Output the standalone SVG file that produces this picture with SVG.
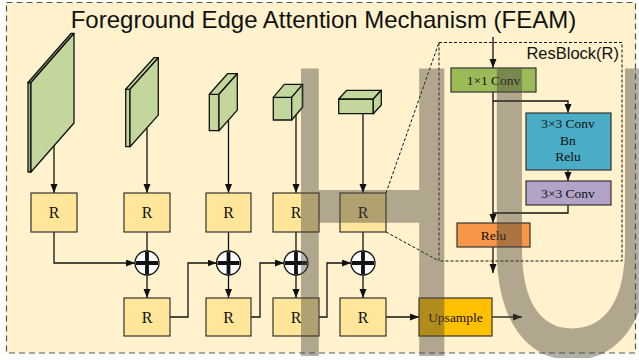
<svg xmlns="http://www.w3.org/2000/svg" width="639" height="360" viewBox="0 0 639 360">
  <defs>
    <style>
      .frame { fill: #fff2cc; stroke: #555; stroke-width: 1.2; stroke-dasharray: 6 4; }
      .title { font-family: "Liberation Sans", Arial, sans-serif; font-size: 24px; fill: #111; }
      .plate { fill: #c3d69b; stroke: #111; stroke-width: 1.3; stroke-linejoin: round; }
      .edge { fill: #9fb683; }
      .box { stroke: #333; stroke-width: 1.2; }
      .r { fill: #ffe699; }
      .lbl { font-family: "Liberation Serif", "Times New Roman", serif; font-size: 13.5px; fill: #111; text-anchor: middle; }
      .rl { font-family: "Liberation Serif", "Times New Roman", serif; font-size: 16px; fill: #111; text-anchor: middle; }
      .wire { fill: none; stroke: #111; stroke-width: 1.3; }
      .arr { marker-end: url(#head); }
      .zoomline { fill: none; stroke: #111; stroke-width: 1; stroke-dasharray: 3 2; }
      .sum circle { fill: #fff; stroke: #111; stroke-width: 1.3; }
      .sum path { stroke: #111; stroke-width: 3.8; fill: none; }
      .mark { font-family: "Liberation Sans", Arial, sans-serif; font-size: 418px; fill: rgb(80,74,64); }
    </style>
    <marker id="head" markerUnits="userSpaceOnUse" markerWidth="10" markerHeight="8" refX="9" refY="3.5" orient="auto">
      <path d="M0,0 L9,3.5 L0,7 z" fill="#111"/>
    </marker>
    <clipPath id="markclip">
      <rect x="301" y="0" width="338" height="358"/>
    </clipPath>
  </defs>

  <!-- outer module frame -->
  <rect class="frame" x="6.5" y="2.5" width="629" height="350.5"/>
  <text class="title" x="323.5" y="28" text-anchor="middle">Foreground Edge Attention Mechanism (FEAM)</text>

  <!-- multi-scale feature maps -->
  <g id="feat1">
    <rect class="plate edge" x="28" y="82.5" width="3" height="89.5"/>
    <polygon class="plate edge" points="28,82.5 71,33.5 74,33.5 31,82.5"/>
    <polygon class="plate" points="31,82.5 74,33.5 74,123 31,172"/>
  </g>
  <g id="feat2">
    <rect class="plate" x="125.7" y="89.3" width="4.3" height="57.4"/>
    <polygon class="plate" points="125.7,89.3 154,57.7 158.3,57.7 130,89.3"/>
    <polygon class="plate" points="130,89.3 158.3,57.7 158.3,115.1 130,146.7"/>
  </g>
  <g id="feat3">
    <rect class="plate" x="209.3" y="94.3" width="9.7" height="36.4"/>
    <polygon class="plate" points="209.3,94.3 227.6,73.7 237.3,73.7 219,94.3"/>
    <polygon class="plate" points="219,94.3 237.3,73.7 237.3,110.1 219,130.7"/>
  </g>
  <g id="feat4">
    <rect class="plate" x="273.3" y="97.3" width="18.4" height="22.7"/>
    <polygon class="plate" points="273.3,97.3 284.3,84.3 302.7,84.3 291.7,97.3"/>
    <polygon class="plate" points="291.7,97.3 302.7,84.3 302.7,107 291.7,120"/>
  </g>
  <g id="feat5">
    <rect class="plate" x="338.7" y="99" width="34.6" height="14.7"/>
    <polygon class="plate" points="338.7,99 346.7,90.3 381.3,90.3 373.3,99"/>
    <polygon class="plate" points="373.3,99 381.3,90.3 381.3,105 373.3,113.7"/>
  </g>

  <!-- ResBlock detail frame -->
  <g id="resblock">
    <rect x="439" y="42.5" width="183" height="218.5" fill="none" stroke="#111" stroke-width="1" stroke-dasharray="3 2"/>
    <text x="619" y="59" text-anchor="end" font-family="'Liberation Sans', Arial, sans-serif" font-size="16.5" fill="#111">ResBlock(R)</text>
  </g>

  <!-- connectors -->
  <g id="connectors">
    <line class="wire arr" x1="54" y1="146" x2="54" y2="193"/>
    <line class="wire arr" x1="147" y1="128" x2="147" y2="193"/>
    <line class="wire arr" x1="228.5" y1="120" x2="228.5" y2="193"/>
    <line class="wire arr" x1="296" y1="115" x2="296" y2="193"/>
    <line class="wire arr" x1="363" y1="113.7" x2="363" y2="193"/>

    <polyline class="wire arr" points="54,232 54,263 135,263"/>
    <line class="wire" x1="147" y1="232" x2="147" y2="251"/>
    <line class="wire" x1="228.5" y1="232" x2="228.5" y2="251"/>
    <line class="wire" x1="296" y1="232" x2="296" y2="251"/>
    <line class="wire" x1="363" y1="232" x2="363" y2="251"/>

    <line class="wire arr" x1="147" y1="275" x2="147" y2="298"/>
    <line class="wire arr" x1="228.5" y1="275" x2="228.5" y2="298"/>
    <line class="wire arr" x1="296" y1="275" x2="296" y2="298"/>
    <line class="wire arr" x1="363" y1="275" x2="363" y2="298"/>

    <polyline class="wire arr" points="170,317 188,317 188,263 216.5,263"/>
    <polyline class="wire arr" points="251,317 260,317 260,263 284,263"/>
    <polyline class="wire arr" points="319,317 327,317 327,263 351,263"/>
    <line class="wire arr" x1="386" y1="317" x2="419" y2="317"/>
    <line class="wire arr" x1="492" y1="317" x2="522" y2="317"/>

    <line class="zoomline" x1="386" y1="193" x2="439" y2="42.5"/>
    <line class="zoomline" x1="386" y1="232" x2="439" y2="261"/>

    <line class="wire arr" x1="493" y1="37" x2="493" y2="68"/>
    <line class="wire arr" x1="493" y1="92" x2="493" y2="223"/>
    <polyline class="wire arr" points="493,101 568,101 568,113"/>
    <line class="wire arr" x1="568" y1="170" x2="568" y2="181"/>
    <polyline class="wire" points="568,205 568,213 493,213"/>
    <line class="wire arr" x1="493" y1="247" x2="493" y2="273"/>
  </g>

  <!-- adders -->
  <g id="add1" class="sum"><circle cx="147" cy="263" r="12"/><path d="M136,263 H158 M147,252 V274"/></g>
  <g id="add2" class="sum"><circle cx="228.5" cy="263" r="12"/><path d="M217.5,263 H239.5 M228.5,252 V274"/></g>
  <g id="add3" class="sum"><circle cx="296" cy="263" r="12"/><path d="M285,263 H307 M296,252 V274"/></g>
  <g id="add4" class="sum"><circle cx="363" cy="263" r="12"/><path d="M352,263 H374 M363,252 V274"/></g>

  <!-- residual blocks, top row -->
  <g id="r1"><rect class="box r" x="31" y="193" width="46" height="39"/><text class="rl" x="54" y="218">R</text></g>
  <g id="r2"><rect class="box r" x="124" y="193" width="46" height="39"/><text class="rl" x="147" y="218">R</text></g>
  <g id="r3"><rect class="box r" x="206" y="193" width="45" height="39"/><text class="rl" x="228.5" y="218">R</text></g>
  <g id="r4"><rect class="box r" x="273" y="193" width="46" height="39"/><text class="rl" x="296" y="218">R</text></g>
  <g id="r5"><rect class="box r" x="340" y="193" width="46" height="39"/><text class="rl" x="363" y="218">R</text></g>

  <!-- residual blocks, bottom row -->
  <g id="r6"><rect class="box r" x="124" y="298" width="46" height="38"/><text class="rl" x="147" y="322.5">R</text></g>
  <g id="r7"><rect class="box r" x="206" y="298" width="45" height="38"/><text class="rl" x="228.5" y="322.5">R</text></g>
  <g id="r8"><rect class="box r" x="273" y="298" width="46" height="38"/><text class="rl" x="296" y="322.5">R</text></g>
  <g id="r9"><rect class="box r" x="340" y="298" width="46" height="38"/><text class="rl" x="363" y="322.5">R</text></g>

  <g id="upsample"><rect class="box" x="419" y="298" width="73" height="38" fill="#ffc000"/><text class="lbl" x="455.5" y="322">Upsample</text></g>

  <!-- ResBlock internals -->
  <g id="conv1x1"><rect class="box" x="451" y="68" width="85" height="24" fill="#9bbb59"/><text class="lbl" x="493.5" y="84.5">1×1 Conv</text></g>
  <g id="convbnrelu"><rect class="box" x="526" y="113" width="85" height="57" fill="#4bacc6"/>
    <text class="lbl" x="568" y="128.3">3×3 Conv</text>
    <text class="lbl" x="568" y="145.3">Bn</text>
    <text class="lbl" x="568" y="161.3">Relu</text>
  </g>
  <g id="conv3x3"><rect class="box" x="526" y="181" width="85" height="24" fill="#b3a2c7"/><text class="lbl" x="568" y="197.5">3×3 Conv</text></g>
  <g id="relu"><rect class="box" x="457" y="223" width="73" height="24" fill="#f79646"/><text class="lbl" x="493.5" y="239.5">Relu</text></g>

  <!-- watermark -->
  <g clip-path="url(#markclip)" opacity="0.44">
    <text class="mark" transform="scale(0.6456,1)" y="356"><tspan x="420.5">H</tspan><tspan x="737.3">U</tspan></text>
  </g>
</svg>
